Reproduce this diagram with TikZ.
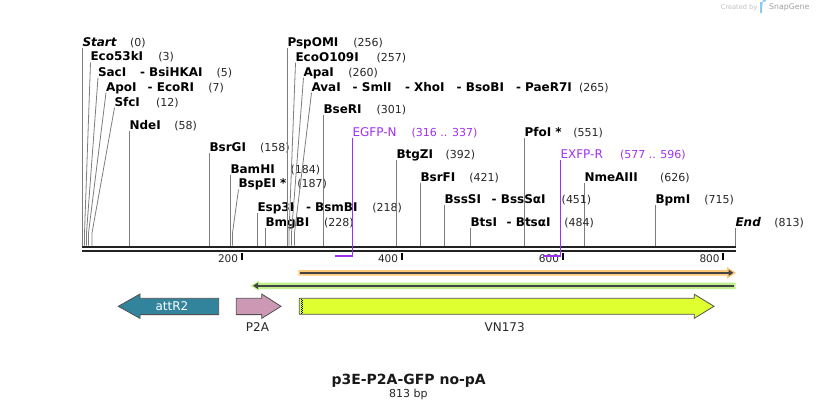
\documentclass[tikz,border=0pt]{standalone}
\usepackage{fontspec}
\setmainfont{DejaVu Sans}
\usetikzlibrary{arrows.meta}
\definecolor{linegray}{RGB}{125,125,125}
\definecolor{primerc}{RGB}{160,48,240}
\definecolor{attc}{RGB}{50,132,156}
\definecolor{p2ac}{RGB}{204,152,180}
\definecolor{vnc}{RGB}{224,255,48}
\definecolor{orangec}{RGB}{255,200,120}
\definecolor{greenc}{RGB}{190,240,140}
\definecolor{darkc}{RGB}{68,68,68}
\definecolor{outlc}{RGB}{80,80,80}
\definecolor{credc}{RGB}{190,190,190}
\definecolor{logoc}{RGB}{140,200,240}
\definecolor{rulerc}{RGB}{34,34,34}

\newcommand\enzfont{\fontsize{12}{14}\selectfont\bfseries}
\newcommand\numfont{\fontsize{11}{13}\selectfont}

\tikzset{
 enz/.style={anchor=base west, inner sep=0pt, outer sep=0pt, font=\enzfont, text=black},
 numl/.style={anchor=base west, inner sep=0pt, outer sep=0pt, font=\numfont, text=black!85},
 prm/.style={anchor=base west, inner sep=0pt, outer sep=0pt, font=\fontsize{12}{14}\selectfont, text=primerc},
 prmn/.style={anchor=base west, inner sep=0pt, outer sep=0pt, font=\numfont, text=primerc},
 cut/.style={draw=linegray, line width=0.8pt},
 primerline/.style={draw=primerc, line width=1.5pt},
 rulerline/.style={draw=rulerc, line width=2.4pt},
 tickline/.style={draw=black, line width=2pt},
 ticklab/.style={anchor=base east, inner sep=0pt, font=\fontsize{10.5}{12}\selectfont, text=black!85},
 feat/.style={draw=outlc, line width=0.8pt},
 featlab/.style={anchor=base, inner sep=0pt, font=\fontsize{12}{14}\selectfont, text=black!85},
}

% id, label x, label centre y, text, number x, number, site x
\newcommand\site[7]{%
 \node[enz] (#1) at (#2,#3+4.4) {#4};
 \node[numl] (#1-n) at (#5,#3+4.4) {(#6)};
 \coordinate (#1-r) at (#7,245.5);
 \draw[cut] ([shift={(0,1.6)}]#1.base west) -- ([yshift=12.5pt]#1-r) -- (#1-r);
}
\newcommand\extra[4]{\node[enz] (#1) at (#2,#3+4.4) {#4};}

\begin{document}
\begin{tikzpicture}[x=1pt,y=-1pt]
\useasboundingbox (0,0) rectangle (818,409);

% credit
\node[anchor=base west, inner sep=0pt, font=\fontsize{6.6}{8}\selectfont, text=credc] (cred) at (720.7,9.1) {Created by};
\fill[logoc] (759.5,2) rectangle (762,13);
\fill[logoc] (762,2) -- (763.5,2) arc[start angle=90, end angle=-90, radius=3.2] -- (762,8.4) -- cycle;
\node[anchor=base west, inner sep=0pt, font=\fontsize{7.8}{9}\selectfont, text=credc!85!black] (sg) at (769,9.6) {SnapGene};

% sites
\site{start}{82.5}{42.3}{\itshape Start}{130}{0}{82.5}
\site{eco53}{90.5}{56.5}{Eco53kI}{158.3}{3}{84.5}
\site{sac}{98}{71.7}{SacI}{216.7}{5}{86.5}
\extra{sac-h}{140}{71.7}{- BsiHKAI}
\site{apo}{106}{86.7}{ApoI}{208.3}{7}{88.5}
\extra{apo-h}{147.7}{86.7}{- EcoRI}
\site{sfc}{114.5}{101.7}{SfcI}{156}{12}{92}
\site{nde}{129.5}{125}{NdeI}{174.3}{58}{129.5}
\site{bsrg}{209.5}{147.3}{BsrGI}{260}{158}{209.5}
\site{bamh}{230.5}{169}{BamHI}{290.7}{184}{230.5}
\site{bspe}{238.5}{183.5}{BspEI *}{297.3}{187}{232.5}
\site{esp}{257.5}{207.3}{Esp3I}{372.3}{218}{257.5}
\extra{esp-h}{306}{207.3}{- BsmBI}
\site{bmgb}{265.5}{221.7}{BmgBI}{324}{228}{265.5}
\site{pspo}{287.5}{42.3}{PspOMI}{353.3}{256}{287.5}
\site{eco109}{295.5}{56.7}{EcoO109I}{376.7}{257}{289}
\site{apa}{303.5}{71.7}{ApaI}{348.3}{260}{291.5}
\site{ava}{311.5}{86.7}{AvaI}{579}{265}{294.5}
\extra{ava-h1}{352.7}{86.7}{- SmlI}
\extra{ava-h2}{405}{86.7}{- XhoI}
\extra{ava-h3}{456.7}{86.7}{- BsoBI}
\extra{ava-h4}{516}{86.7}{- PaeR7I}
\site{bser}{323.5}{109.3}{BseRI}{376.7}{301}{323.5}
\site{pfo}{524.5}{132.3}{PfoI *}{573.3}{551}{524.5}
\site{btgz}{396.5}{154}{BtgZI}{445.7}{392}{396.5}
\site{bsrf}{420.5}{176.7}{BsrFI}{469.3}{421}{420.5}
\site{nmea}{584.5}{176.7}{NmeAIII}{660}{626}{584.5}
\site{bsss}{444.5}{199}{BssSI}{561.7}{451}{444.5}
\extra{bsss-h}{491.7}{199}{- BssSαI}
\site{bpm}{655.5}{199}{BpmI}{704.3}{715}{655.5}
\site{bts}{470.5}{221.7}{BtsI}{564.3}{484}{470.5}
\extra{bts-h}{506.7}{221.7}{- BtsαI}
\site{end}{735.5}{221.7}{\itshape End}{774.3}{813}{735.5}

% ruler
\coordinate (rl) at (81.5,246.8);
\coordinate (rr) at (736,246.8);
\draw[rulerline] (rl) -- (rr);
\draw[rulerline] ([yshift=-4.4pt]rl) -- ([yshift=-4.4pt]rr);
\foreach \tx/\lab in {241.8/200, 401.8/400, 562.7/600, 723.3/800}{
  \coordinate (t\lab) at (\tx,253);
  \draw[tickline] (t\lab) -- ++(0,6.5);
  \node[ticklab] (tl\lab) at (\tx-3.5,262.8) {\lab};
}

% primers
\node[prm] (egfp) at (352.5,136.1) {EGFP-N};
\node[prmn] (egfp-n) at (411.7,136.1) {(316 .. 337)};
\coordinate (egfp-b) at (335,255.8);
\draw[primerline] ([shift={(0,1.6)}]egfp.base west) -- (egfp.base west |- egfp-b) -- (egfp-b);
\node[prm] (exfp) at (560.5,158.4) {EXFP-R};
\node[prmn] (exfp-n) at (620,158.4) {(577 .. 596)};
\coordinate (exfp-b) at (543.3,255.8);
\draw[primerline] ([shift={(0,1.6)}]exfp.base west) -- (exfp.base west |- exfp-b) -- (exfp-b);

% orange bar
\coordinate (ob-l) at (300,272.8);
\coordinate (ob-r) at (733.5,272.8);
\fill[orangec] (298.3,270) -- (727,270) -- (727,267) -- (736,272.8) -- (727,278.8) -- (727,275.7) -- (298.3,275.7) -- cycle;
\draw[darkc, line width=1.7pt, -{Triangle[length=5pt,width=6pt]}] (ob-l) -- (ob-r);

% green bar
\coordinate (gb-r) at (734,285.8);
\coordinate (gb-l) at (253,285.8);
\fill[greenc] (250.5,285.8) -- (259,280.7) -- (259,282.7) -- (735.7,282.7) -- (735.7,289) -- (259,289) -- (259,290.9) -- cycle;
\draw[darkc, line width=1.7pt, -{Triangle[length=5pt,width=6pt]}] (gb-r) -- (gb-l);

% features
\draw[feat, fill=attc] (218.7,298.3) -- (140,298.3) -- (140,294) -- (118.3,306.3) -- (140,318.4) -- (140,314.6) -- (218.7,314.6) -- cycle;
\node[anchor=base, inner sep=0pt, font=\fontsize{12}{14}\selectfont, text=white] (attr2) at (172,310.6) {attR2};

\draw[feat, fill=p2ac] (236.3,298.3) -- (261.7,298.3) -- (261.7,294) -- (281,306.3) -- (261.7,318.4) -- (261.7,314.6) -- (236.3,314.6) -- cycle;
\node[featlab] (p2a) at (257.5,331.7) {P2A};

\draw[feat, fill=vnc] (299.3,298.3) -- (694.3,298.3) -- (694.3,294.3) -- (714,306.3) -- (694.3,318.3) -- (694.3,314.3) -- (299.3,314.3) -- cycle;
\draw[black, line width=1pt, dash pattern=on 1pt off 1pt] (301,299.3) -- (301,313.5);
\draw[black, line width=1pt, dash pattern=on 1pt off 1pt, dash phase=1pt] (302.5,299.3) -- (302.5,313.5);
\node[featlab] (vn173) at (504.7,331.7) {VN173};

% title
\node[anchor=base, inner sep=0pt, font=\fontsize{14}{16}\selectfont\bfseries, text=black!90] (title) at (408.7,384.1) {p3E-P2A-GFP no-pA};
\node[anchor=base, inner sep=0pt, font=\fontsize{11}{13}\selectfont, text=black!85] (bp) at (408.3,397.3) {813 bp};
\end{tikzpicture}
\end{document}
